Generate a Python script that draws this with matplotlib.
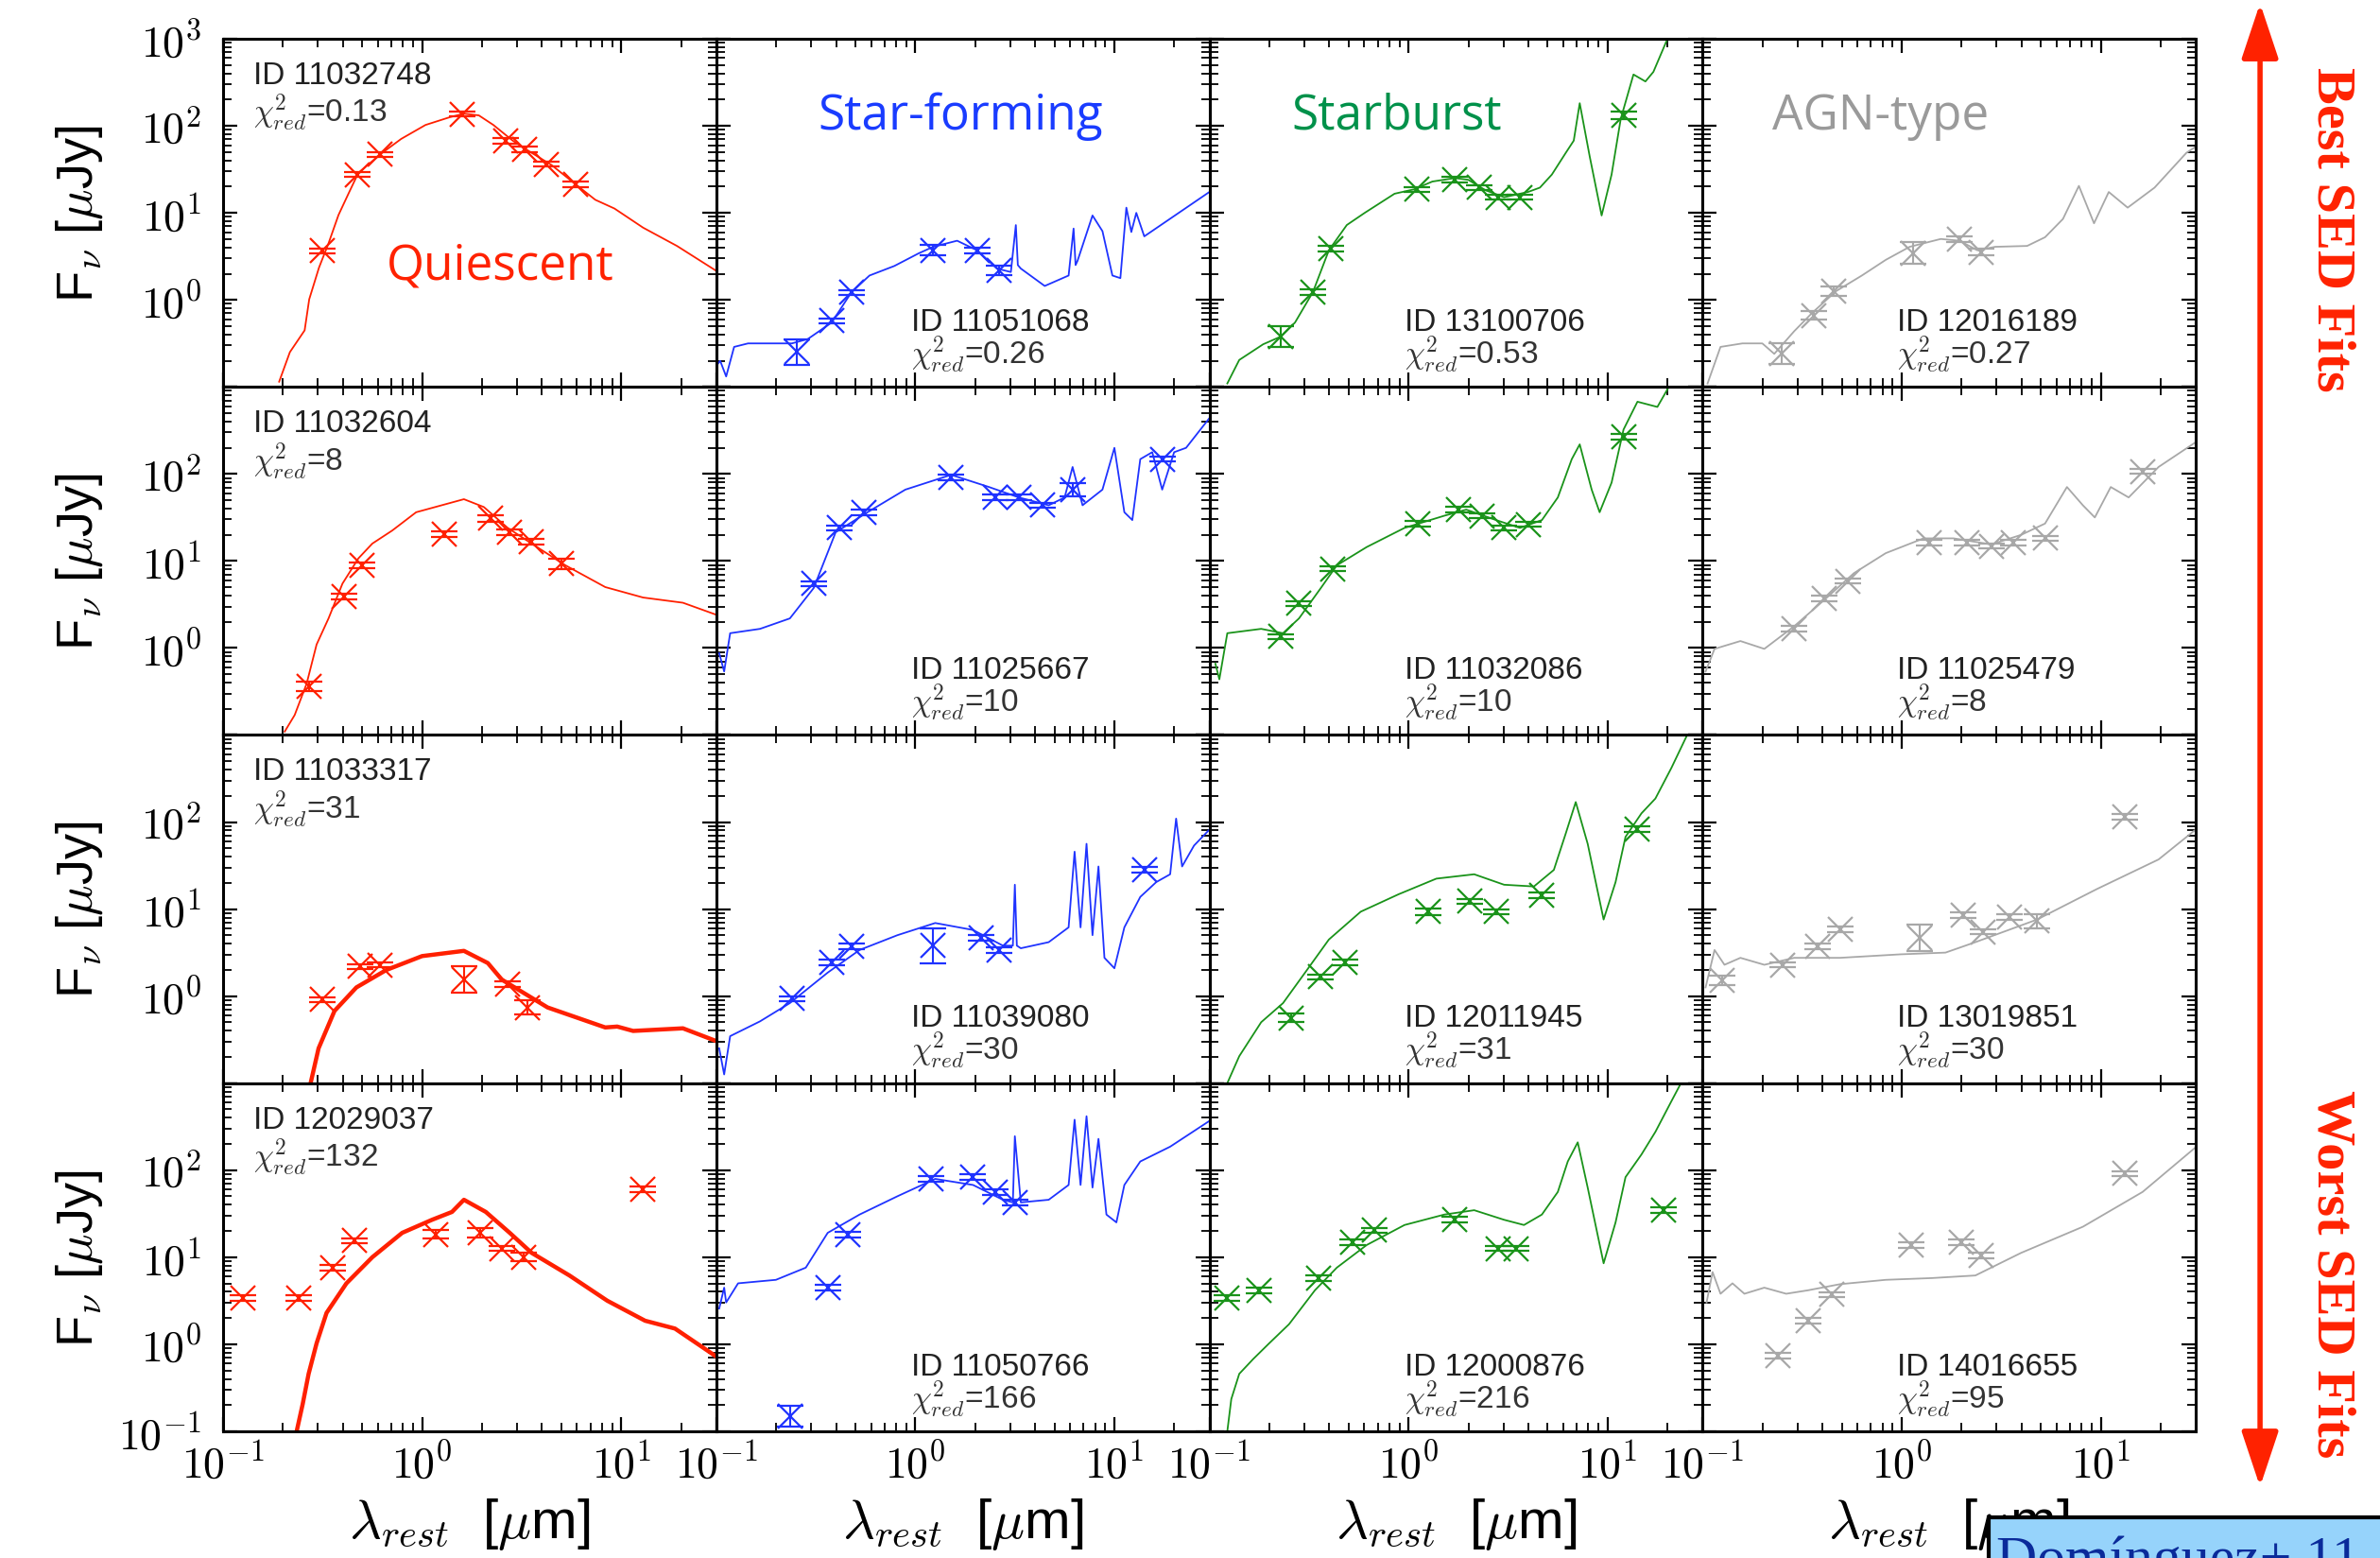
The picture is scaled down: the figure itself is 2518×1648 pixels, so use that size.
import matplotlib
matplotlib.use('Agg')
import matplotlib.pyplot as plt
import numpy as np
from matplotlib import font_manager
from matplotlib.patches import FancyArrowPatch, Rectangle
from matplotlib.ticker import LogLocator, FuncFormatter, NullFormatter

# all values are log10(lambda_rest / um) and log10(F_nu / uJy)
# model = fitted template line, pts = photometry, err = error bar half-size in dex

# ---- row 1 : best fits ----
m11032748_x = [-0.718, -0.664, -0.59, -0.567, -0.518, -0.47, -0.42, -0.37, -0.32, -0.20, -0.105, 0.017, 0.14,
               0.21, 0.285, 0.358, 0.455, 0.55, 0.65, 0.77, 0.87, 0.966, 1.11, 1.28, 1.48]
m11032748_y = [-0.94, -0.6, -0.35, 0.007, 0.37, 0.65, 0.975, 1.22, 1.46, 1.69, 1.85, 2.01, 2.10,
               2.14, 2.12, 2.01, 1.83, 1.69, 1.55, 1.33, 1.15, 1.05, 0.83, 0.62, 0.33]
p11032748_x = [-0.50, -0.324, -0.214, 0.20, 0.418, 0.516, 0.625, 0.771]
p11032748_y = [0.564, 1.44, 1.67, 2.136, 1.83, 1.73, 1.56, 1.33]
p11032748_e = [0.03, 0.03, 0.03, 0.03, 0.03, 0.03, 0.03, 0.03]

m11051068_x = [-1.0, -0.98, -0.95, -0.91, -0.84, -0.74, -0.62, -0.54, -0.42, -0.32, -0.23, -0.105, 0.017, 0.09,
               0.21, 0.31, 0.41, 0.48, 0.505, 0.515, 0.53, 0.65, 0.77, 0.795, 0.805, 0.815, 0.89, 0.94, 0.99,
               1.03, 1.06, 1.085, 1.11, 1.15, 1.477]
m11051068_y = [-0.76, -0.70, -0.88, -0.54, -0.50, -0.50, -0.50, -0.45, -0.26, 0.09, 0.28, 0.39, 0.535, 0.61,
               0.68, 0.57, 0.36, 0.32, 0.86, 0.40, 0.36, 0.16, 0.28, 0.82, 0.40, 0.45, 0.97, 0.79, 0.28,
               0.25, 1.06, 0.78, 1.0, 0.73, 1.24]
p11051068_x = [-0.596, -0.42, -0.32, 0.09, 0.31, 0.42]
p11051068_y = [-0.60, -0.24, 0.086, 0.57, 0.57, 0.34]
p11051068_e = [0.15, 0.03, 0.03, 0.06, 0.03, 0.05]

m13100706_x = [-0.91, -0.85, -0.73, -0.64, -0.57, -0.48, -0.40, -0.31, -0.22, -0.07, 0.027, 0.12, 0.233, 0.30,
               0.387, 0.48, 0.60, 0.66, 0.72, 0.79, 0.83, 0.86, 0.91, 0.97, 1.02, 1.066, 1.13, 1.19, 1.23, 1.31]
m13100706_y = [-0.96, -0.69, -0.51, -0.42, -0.26, 0.09, 0.57, 0.86, 1.0, 1.22, 1.27, 1.36, 1.40, 1.38,
               1.26, 1.18, 1.24, 1.29, 1.44, 1.69, 1.83, 2.26, 1.65, 0.97, 1.44, 2.08, 2.59, 2.51, 2.62, 3.05]
p13100706_x = [-0.64, -0.48, -0.39, 0.04, 0.233, 0.357, 0.45, 0.56, 1.08]
p13100706_y = [-0.42, 0.09, 0.59, 1.27, 1.38, 1.29, 1.18, 1.18, 2.12]
p13100706_e = [0.12, 0.03, 0.03, 0.03, 0.03, 0.03, 0.03, 0.03, 0.04]

m12016189_x = [-0.975, -0.91, -0.80, -0.70, -0.64, -0.54, -0.45, -0.33, -0.20, -0.08, 0.04, 0.196, 0.29,
               0.38, 0.47, 0.63, 0.72, 0.81, 0.89, 0.966, 1.04, 1.135, 1.27, 1.43, 1.477]
m12016189_y = [-0.96, -0.54, -0.50, -0.50, -0.62, -0.36, -0.15, 0.10, 0.28, 0.46, 0.61, 0.70, 0.68,
               0.57, 0.61, 0.62, 0.72, 0.93, 1.31, 0.88, 1.24, 1.06, 1.29, 1.69, 1.76]
p12016189_x = [-0.605, -0.44, -0.34, 0.057, 0.29, 0.40]
p12016189_y = [-0.615, -0.18, 0.10, 0.54, 0.70, 0.55]
p12016189_e = [0.12, 0.05, 0.05, 0.13, 0.03, 0.04]

# ---- row 2 ----
m11032604_x = [-0.69, -0.64, -0.58, -0.53, -0.47, -0.40, -0.32, -0.25, -0.15, -0.03, 0.066, 0.21, 0.31,
               0.43, 0.55, 0.72, 0.92, 1.11, 1.31, 1.48]
m11032604_y = [-0.96, -0.77, -0.41, 0.04, 0.34, 0.74, 1.03, 1.20, 1.35, 1.56, 1.62, 1.71, 1.62,
               1.38, 1.20, 0.95, 0.70, 0.58, 0.52, 0.38]
p11032604_x = [-0.567, -0.39, -0.30, 0.11, 0.345, 0.44, 0.55, 0.70]
p11032604_y = [-0.44, 0.59, 0.95, 1.31, 1.49, 1.33, 1.22, 0.97]
p11032604_e = [0.05, 0.03, 0.03, 0.03, 0.04, 0.03, 0.03, 0.06]

m11025667_x = [-0.985, -0.96, -0.93, -0.78, -0.63, -0.51, -0.40, -0.24, -0.05, 0.18, 0.37, 0.52, 0.67, 0.75,
               0.79, 0.84, 0.94, 1.0, 1.05, 1.09, 1.13, 1.19, 1.24, 1.30, 1.36, 1.48]
m11025667_y = [-0.06, -0.27, 0.17, 0.22, 0.34, 0.69, 1.33, 1.56, 1.82, 1.99, 1.85, 1.73, 1.64, 1.73,
               2.08, 1.64, 1.82, 2.30, 1.56, 1.47, 2.17, 2.25, 1.82, 2.25, 2.30, 2.65]
p11025667_x = [-0.51, -0.38, -0.26, 0.18, 0.40, 0.52, 0.64, 0.79, 1.24]
p11025667_y = [0.74, 1.38, 1.56, 1.96, 1.73, 1.73, 1.64, 1.82, 2.17]
p11025667_e = [0.03, 0.03, 0.03, 0.03, 0.03, 0.03, 0.03, 0.08, 0.03]

m11032086_x = [-0.97, -0.95, -0.91, -0.74, -0.63, -0.55, -0.44, -0.36, -0.21, -0.02, 0.18, 0.29, 0.44,
               0.56, 0.67, 0.75, 0.82, 0.86, 0.92, 0.96, 1.02, 1.08, 1.15, 1.25, 1.32]
m11032086_y = [-0.18, -0.36, 0.17, 0.22, 0.17, 0.34, 0.69, 0.95, 1.16, 1.38, 1.52, 1.59, 1.47,
               1.38, 1.47, 1.73, 2.17, 2.34, 1.82, 1.56, 1.90, 2.51, 2.83, 2.77, 3.05]
p11032086_x = [-0.64, -0.55, -0.38, 0.046, 0.25, 0.37, 0.48, 0.60, 1.08]
p11032086_y = [0.13, 0.51, 0.91, 1.43, 1.59, 1.52, 1.38, 1.42, 2.43]
p11032086_e = [0.03, 0.03, 0.03, 0.03, 0.03, 0.03, 0.03, 0.03, 0.03]

m11025479_x = [-0.985, -0.94, -0.81, -0.69, -0.54, -0.39, -0.24, -0.08, 0.11, 0.26, 0.45, 0.60, 0.72,
               0.83, 0.91, 0.97, 1.05, 1.14, 1.29, 1.48]
m11025479_y = [-0.27, -0.01, 0.08, -0.01, 0.25, 0.55, 0.86, 1.09, 1.26, 1.26, 1.19, 1.30, 1.43,
               1.85, 1.64, 1.50, 1.85, 1.73, 2.08, 2.37]
p11025479_x = [-0.54, -0.39, -0.27, 0.14, 0.33, 0.45, 0.56, 0.72, 1.21]
p11025479_y = [0.22, 0.57, 0.77, 1.21, 1.21, 1.17, 1.21, 1.26, 2.03]
p11025479_e = [0.03, 0.03, 0.03, 0.03, 0.03, 0.03, 0.03, 0.03, 0.03]

# ---- row 3 ----
m11033317_x = [-0.56, -0.52, -0.44, -0.33, -0.18, 0.0, 0.21, 0.33, 0.40, 0.63, 0.92, 0.98, 1.06, 1.31, 1.47]
m11033317_y = [-1.0, -0.6, -0.17, 0.10, 0.30, 0.46, 0.52, 0.38, 0.19, -0.13, -0.36, -0.35, -0.40, -0.37, -0.51]
p11033317_x = [-0.50, -0.31, -0.21, 0.21, 0.43, 0.53]
p11033317_y = [-0.04, 0.34, 0.36, 0.19, 0.14, -0.13]
p11033317_e = [0.03, 0.03, 0.03, 0.15, 0.03, 0.08]

m11039080_x = [-0.985, -0.96, -0.93, -0.78, -0.63, -0.44, -0.28, -0.09, 0.10, 0.29, 0.44, 0.49, 0.50, 0.51,
               0.53, 0.67, 0.77, 0.80, 0.83, 0.86, 0.89, 0.92, 0.95, 1.0, 1.05, 1.13, 1.21, 1.28, 1.31,
               1.34, 1.40, 1.48]
m11039080_y = [-0.6, -0.9, -0.46, -0.29, -0.08, 0.27, 0.53, 0.70, 0.84, 0.76, 0.58, 0.58, 1.28, 0.58,
               0.55, 0.62, 0.79, 1.66, 0.79, 1.75, 0.70, 1.49, 0.44, 0.32, 0.79, 1.14, 1.31, 1.40, 2.04,
               1.49, 1.73, 1.92]
p11039080_x = [-0.62, -0.42, -0.32, 0.09, 0.33, 0.42, 1.15]
p11039080_y = [-0.03, 0.39, 0.57, 0.58, 0.67, 0.53, 1.45]
p11039080_e = [0.03, 0.03, 0.03, 0.2, 0.03, 0.03, 0.03]

m12011945_x = [-0.91, -0.85, -0.74, -0.63, -0.51, -0.40, -0.24, -0.05, 0.14, 0.33, 0.48, 0.63, 0.73,
               0.79, 0.84, 0.90, 0.98, 1.04, 1.09, 1.17, 1.24, 1.32, 1.41]
m12011945_y = [-1.0, -0.69, -0.30, -0.08, 0.30, 0.65, 0.97, 1.17, 1.35, 1.40, 1.28, 1.26, 1.45,
               1.87, 2.23, 1.75, 0.88, 1.31, 1.83, 2.10, 2.27, 2.62, 3.05]
p12011945_x = [-0.59, -0.44, -0.32, 0.10, 0.31, 0.44, 0.67, 1.15]
p12011945_y = [-0.25, 0.22, 0.39, 0.97, 1.09, 0.97, 1.16, 1.92]
p12011945_e = [0.05, 0.03, 0.03, 0.04, 0.03, 0.03, 0.03, 0.03]

m13019851_x = [-0.985, -0.94, -0.89, -0.81, -0.69, -0.54, -0.31, -0.008, 0.22, 0.37, 0.68, 0.98, 1.29, 1.48]
m13019851_y = [0.10, 0.53, 0.36, 0.44, 0.36, 0.44, 0.44, 0.48, 0.50, 0.62, 0.88, 1.23, 1.57, 1.92]
p13019851_x = [-0.90, -0.60, -0.42, -0.31, 0.09, 0.31, 0.41, 0.54, 0.68, 1.12]
p13019851_y = [0.18, 0.36, 0.57, 0.77, 0.67, 0.93, 0.74, 0.91, 0.86, 2.06]
p13019851_e = [0.05, 0.03, 0.03, 0.03, 0.15, 0.03, 0.03, 0.03, 0.08, 0.03]

# ---- row 4 : worst fits ----
m12029037_x = [-0.63, -0.60, -0.57, -0.53, -0.48, -0.38, -0.25, -0.10, 0.05, 0.15, 0.21, 0.32, 0.44,
               0.55, 0.74, 0.93, 1.12, 1.27, 1.47]
m12029037_y = [-1.0, -0.69, -0.34, 0.01, 0.36, 0.70, 1.0, 1.28, 1.43, 1.52, 1.66, 1.52, 1.28,
               1.05, 0.79, 0.50, 0.27, 0.18, -0.13]
p12029037_x = [-0.90, -0.62, -0.45, -0.34, 0.07, 0.29, 0.40, 0.51, 1.11]
p12029037_y = [0.53, 0.53, 0.88, 1.19, 1.26, 1.28, 1.10, 1.0, 1.78]
p12029037_e = [0.03, 0.03, 0.03, 0.03, 0.05, 0.05, 0.03, 0.05, 0.03]

m11050766_x = [-0.985, -0.96, -0.95, -0.89, -0.70, -0.55, -0.44, -0.28, -0.09, 0.10, 0.29, 0.44, 0.49,
               0.50, 0.53, 0.67, 0.77, 0.80, 0.83, 0.86, 0.89, 0.92, 0.96, 1.01, 1.05, 1.13, 1.28, 1.48]
m11050766_y = [0.41, 0.65, 0.48, 0.70, 0.74, 0.88, 1.28, 1.49, 1.70, 1.90, 1.83, 1.66, 1.63,
               2.39, 1.63, 1.66, 1.83, 2.58, 1.83, 2.62, 1.80, 2.36, 1.49, 1.40, 1.83, 2.10, 2.27, 2.57]
p11050766_x = [-0.63, -0.44, -0.34, 0.08, 0.29, 0.40, 0.50]
p11050766_y = [-0.83, 0.65, 1.26, 1.90, 1.92, 1.75, 1.63]
p11050766_e = [0.12, 0.03, 0.03, 0.03, 0.03, 0.03, 0.03]

m12000876_x = [-0.91, -0.89, -0.85, -0.78, -0.70, -0.60, -0.47, -0.36, -0.21, -0.02, 0.18, 0.33, 0.48,
               0.58, 0.67, 0.75, 0.80, 0.85, 0.90, 0.98, 1.04, 1.09, 1.17, 1.24, 1.32, 1.38]
m12000876_y = [-1.0, -0.63, -0.34, -0.17, 0.01, 0.23, 0.62, 0.88, 1.14, 1.37, 1.49, 1.54, 1.43,
               1.37, 1.49, 1.75, 2.10, 2.32, 1.80, 0.93, 1.40, 1.92, 2.18, 2.44, 2.79, 3.05]
p12000876_x = [-0.91, -0.75, -0.45, -0.28, -0.17, 0.23, 0.45, 0.54, 1.28]
p12000876_y = [0.53, 0.62, 0.76, 1.17, 1.31, 1.43, 1.10, 1.10, 1.54]
p12000876_e = [0.03, 0.03, 0.03, 0.03, 0.03, 0.03, 0.03, 0.03, 0.03]

m14016655_x = [-0.98, -0.95, -0.91, -0.85, -0.79, -0.69, -0.58, -0.47, -0.31, -0.08, 0.15, 0.37, 0.60,
               0.91, 1.21, 1.48]
m14016655_y = [0.48, 0.83, 0.58, 0.70, 0.58, 0.65, 0.58, 0.62, 0.69, 0.74, 0.76, 0.79, 1.05,
               1.35, 1.75, 2.27]
p14016655_x = [-0.62, -0.47, -0.35, 0.05, 0.30, 0.40, 1.12]
p14016655_y = [-0.13, 0.27, 0.57, 1.14, 1.17, 1.02, 1.96]
p14016655_e = [0.03, 0.03, 0.03, 0.03, 0.03, 0.03, 0.03]

# panel ids and reduced chi^2, row by row
ids = [['11032748', '11051068', '13100706', '12016189'],
       ['11032604', '11025667', '11032086', '11025479'],
       ['11033317', '11039080', '12011945', '13019851'],
       ['12029037', '11050766', '12000876', '14016655']]
chi2 = [['0.13', '0.26', '0.53', '0.27'],
        ['8', '10', '10', '8'],
        ['31', '30', '31', '30'],
        ['132', '166', '216', '95']]

types = ['Quiescent', 'Star-forming', 'Starburst', 'AGN-type']
line_colors = ['#ff2000', '#1f33ff', '#1a931a', '#a8a8a8']
label_colors = ['#ff2200', '#1a3cff', '#00914a', '#9a9a9a']

# ---- fonts ----
names = {f.name for f in font_manager.fontManager.ttflist}
narrow = 'Liberation Sans Narrow' if 'Liberation Sans Narrow' in names else 'Liberation Sans'
plt.rcParams['font.family'] = ['Liberation Sans', 'DejaVu Sans']
plt.rcParams['mathtext.fontset'] = 'cm'
plt.rcParams['axes.linewidth'] = 2.2

data = globals()

fig, axes = plt.subplots(4, 4, figsize=(25.18, 16.49), dpi=100)
fig.subplots_adjust(left=0.0937, right=0.9226, bottom=0.0813, top=0.9745, wspace=0, hspace=0)


def keep_labels(keep):
    def fmt(v, pos):
        e = np.log10(v)
        k = int(round(e))
        if abs(e - k) < 1e-6 and k in keep:
            return r'$10^{%d}$' % k
        return ''
    return FuncFormatter(fmt)


ykeep = [[0, 1, 2, 3], [0, 1, 2], [0, 1, 2], [-1, 0, 1, 2]]

for r in range(4):
    for c in range(4):
        ax = axes[r, c]
        pid = ids[r][c]
        mx = 10 ** np.array(data['m' + pid + '_x'])
        my = 10 ** np.array(data['m' + pid + '_y'])
        px = 10 ** np.array(data['p' + pid + '_x'])
        py = 10 ** np.array(data['p' + pid + '_y'])
        pe = np.array(data['p' + pid + '_e'])
        lw = 3.2 if (c == 0 and r >= 2) else 1.3
        col = line_colors[c]
        ax.plot(mx, my, '-', color=col, lw=lw)
        yerr = [py * (1 - 10 ** -pe), py * (10 ** pe - 1)]
        ax.errorbar(px, py, yerr=yerr, fmt='x', color=col, ms=19, mew=1.6,
                    elinewidth=1.5, capsize=10, capthick=1.5)

        ax.set_xscale('log')
        ax.set_yscale('log')
        ax.set_xlim(0.1, 30)
        ax.set_ylim(0.1, 1000)
        ax.xaxis.set_major_locator(LogLocator(base=10, numticks=12))
        ax.yaxis.set_major_locator(LogLocator(base=10, numticks=12))
        ax.xaxis.set_minor_locator(LogLocator(base=10, subs=np.arange(2, 10), numticks=12))
        ax.yaxis.set_minor_locator(LogLocator(base=10, subs=np.arange(2, 10), numticks=12))
        ax.xaxis.set_minor_formatter(NullFormatter())
        ax.yaxis.set_minor_formatter(NullFormatter())
        if r == 3:
            ax.xaxis.set_major_formatter(keep_labels([-1, 0, 1]))
        else:
            ax.xaxis.set_major_formatter(NullFormatter())
        if c == 0:
            ax.yaxis.set_major_formatter(keep_labels(ykeep[r]))
        else:
            ax.yaxis.set_major_formatter(NullFormatter())
        ax.tick_params(which='both', direction='in', top=True, right=True)
        ax.tick_params(which='major', length=11, width=1.6, labelsize=33)
        ax.tick_params(which='minor', length=6.5, width=1.3)
        ax.tick_params(axis='x', which='major', pad=9)
        ax.tick_params(axis='y', which='major', pad=16)

        # id and chi^2 text
        if c == 0:
            tx, ty1, ty2 = 0.062, 0.896, 0.79
        else:
            tx, ty1, ty2 = 0.395, 0.187, 0.096
        ax.text(tx, ty1, 'ID ' + pid, transform=ax.transAxes, ha='left', va='center',
                fontsize=24, color='#222222', family=narrow)
        ax.text(tx, ty2, r'$\chi^2_{red}$=' + chi2[r][c], transform=ax.transAxes, ha='left',
                va='center', fontsize=24, color='#333333', family=narrow)

# class names
type_pos = [(0.563, 0.348), (0.495, 0.78), (0.38, 0.78), (0.36, 0.78)]
for c in range(4):
    axes[0, c].text(type_pos[c][0], type_pos[c][1], types[c], transform=axes[0, c].transAxes,
                    ha='center', va='center', fontsize=37, color=label_colors[c], family='Open Sans')

# axis labels
for r in range(4):
    pos = axes[r, 0].get_position()
    fig.text(0.0333, (pos.y0 + pos.y1) / 2, r'F$_\nu$ [$\mu$Jy]', rotation=90,
             ha='center', va='center', fontsize=39)
for c in range(4):
    pos = axes[3, c].get_position()
    fig.text((pos.x0 + pos.x1) / 2, 0.022, r'$\lambda_{rest}$  [$\mu$m]',
             ha='center', va='center', fontsize=42)

# best / worst arrow on the right
arrow = FancyArrowPatch((0.9496, 0.044), (0.9496, 0.999), transform=fig.transFigure,
                        arrowstyle='<|-|>,head_length=0.9,head_width=0.3', mutation_scale=40,
                        lw=4, color='#ff2200')
fig.add_artist(arrow)
fig.text(0.9797, 0.853, 'Best SED Fits', rotation=-90, ha='center', va='center',
         fontsize=42, fontweight='bold', color='#ff2200', family='Liberation Serif')
fig.text(0.9797, 0.183, 'Worst SED Fits', rotation=-90, ha='center', va='center',
         fontsize=42, fontweight='bold', color='#ff2200', family='Liberation Serif')

# citation box, cut by the figure edge as in the original slide
box = Rectangle((0.8355, -0.05), 0.2, 0.0761, transform=fig.transFigure,
                facecolor='#96d3fb', edgecolor='black', lw=3, zorder=10)
fig.add_artist(box)
fig.text(0.8387, -0.0103, 'Domínguez+ 11', ha='left', va='baseline', fontsize=43,
         color='#0a2a9a', family='Liberation Serif', zorder=11)

plt.savefig('out.png', dpi=100)
